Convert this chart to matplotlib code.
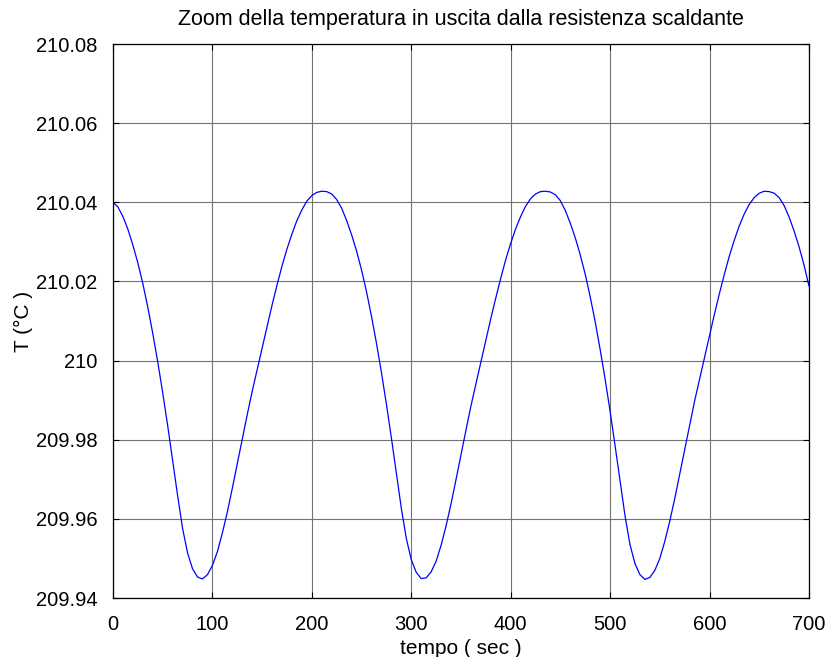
import numpy as np
import matplotlib.pyplot as plt
from matplotlib.ticker import FormatStrFormatter

plt.rcParams['font.family'] = ['Liberation Sans', 'DejaVu Sans']

# temperatura campionata ogni 5 s
tempo = np.arange(0, 705, 5)
temp = [
    210.0400, 210.0388, 210.0364, 210.0332, 210.0292, 210.0247, 210.0195, 210.0135,
    210.0069, 209.9997, 209.9919, 209.9836, 209.9748, 209.9659, 209.9576, 209.9514,
    209.9474, 209.9453,
    209.9448, 209.9459, 209.9482, 209.9517, 209.9564, 209.9617, 209.9677, 209.9739,
    209.9802, 209.9863, 209.9922, 209.9977, 210.0032, 210.0086, 210.0140, 210.0191,
    210.0239, 210.0282, 210.0320, 210.0354, 210.0381, 210.0403, 210.0417, 210.0425,
    210.0428, 210.0427, 210.0421, 210.0407, 210.0385, 210.0354, 210.0318, 210.0277,
    210.0229, 210.0174, 210.0112, 210.0044, 209.9970, 209.9890, 209.9805, 209.9716,
    209.9627, 209.9551, 209.9497, 209.9465, 209.9449,
    209.9451, 209.9466, 209.9493, 209.9533, 209.9582, 209.9638, 209.9699, 209.9762,
    209.9824, 209.9885, 209.9941, 209.9996, 210.0051, 210.0106, 210.0158, 210.0208,
    210.0255, 210.0296, 210.0333, 210.0364, 210.0390, 210.0409, 210.0421, 210.0427,
    210.0428, 210.0426, 210.0419, 210.0404, 210.0379, 210.0347, 210.0310, 210.0267,
    210.0218, 210.0161, 210.0098, 210.0028, 209.9953, 209.9872, 209.9785, 209.9696,
    209.9608, 209.9535, 209.9487, 209.9459, 209.9447,
    209.9452, 209.9470, 209.9500, 209.9543, 209.9594, 209.9651, 209.9713, 209.9775,
    209.9838, 209.9898, 209.9953, 210.0008, 210.0063, 210.0118, 210.0170, 210.0219,
    210.0265, 210.0305, 210.0341, 210.0371, 210.0395, 210.0412, 210.0423,
    210.0428, 210.0427, 210.0423, 210.0412, 210.0392, 210.0363, 210.0328, 210.0288,
    210.0242, 210.0189,
]
xticks = [0, 100, 200, 300, 400, 500, 600, 700]
yticks = [209.94, 209.96, 209.98, 210.0, 210.02, 210.04, 210.06, 210.08]

fig = plt.figure(figsize=(8.35, 6.57), dpi=100)
ax = fig.add_axes([0.1353, 0.0898, 0.8335, 0.8432])
ax.plot(tempo, temp, color='#0000ff', linewidth=0.9)

ax.set_xlim(0, 700)
ax.set_ylim(209.94, 210.08)
ax.set_xticks(xticks)
ax.set_yticks(yticks)
ax.yaxis.set_major_formatter(FormatStrFormatter('%g'))
ax.tick_params(direction='in', length=4, width=0.8, labelsize=14.5,
               top=True, right=True)
ax.tick_params(axis='x', pad=12)
ax.tick_params(axis='y', pad=11)
ax.grid(True, color='#737373', linewidth=0.8)
for s in ax.spines.values():
    s.set_linewidth(0.9)

ax.set_title('Zoom della temperatura in uscita dalla resistenza scaldante',
             fontsize=15.5, pad=14)
ax.set_xlabel('tempo ( sec )', fontsize=15, labelpad=4)
ax.set_ylabel('T (°C )', fontsize=15, labelpad=2)

fig.savefig('out.png', dpi=100)
